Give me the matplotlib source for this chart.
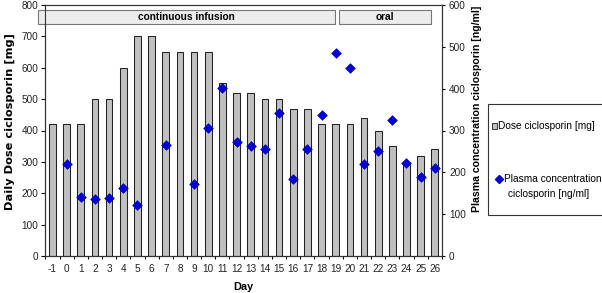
import matplotlib
matplotlib.use("Agg")
import matplotlib.pyplot as plt
from matplotlib.patches import Rectangle
from matplotlib.lines import Line2D
import numpy as np

plt.rcParams['font.family'] = ['Liberation Sans', 'DejaVu Sans']

days = [-1, 0, 1, 2, 3, 4, 5, 6, 7, 8, 9, 10, 11, 12, 13, 14, 15, 16, 17, 18, 19, 20, 21, 22, 23, 24, 25, 26]
dose = [420, 420, 420, 500, 500, 600, 700, 700, 650, 650, 650, 650, 550, 520, 520, 500, 500, 470, 470, 420, 420, 420, 440, 400, 350, 300, 320, 340]
conc_days = [0, 1, 2, 3, 4, 5, 7, 9, 10, 11, 12, 13, 14, 15, 16, 17, 18, 19, 20, 21, 22, 23, 24, 25, 26]
conc = [221, 140, 136, 138, 162, 122, 265, 171, 305, 401, 273, 262, 255, 342, 184, 255, 337, 486, 450, 221, 251, 325, 222, 190, 210]
phases = ["continuous infusion", "oral"]
phase_spans = [(-1.5, 19.45), (19.7, 26.2)]

W, H = 602, 293
def fx(px):
    return px / W
def fy(py):
    return 1 - py / H

fig = plt.figure(figsize=(6.02, 2.93), dpi=100)
ax = fig.add_axes([fx(45.4), fy(256), (441.9 - 45.4) / W, (256 - 5) / H])
ax2 = ax.twinx()

BLUE = '#0000d0'
x = np.arange(len(days))
ax.bar(x, dose, width=0.47, color='#c0c0c0', edgecolor='#222222', linewidth=0.75, zorder=2)
cx = [days.index(d) for d in conc_days]
ax2.scatter(cx, conc, marker='D', s=24, color=BLUE, edgecolor=BLUE, linewidth=0.5, zorder=3)

ax.set_xlim(-0.5, len(days) - 0.5)
ax.set_ylim(0, 800)
ax2.set_ylim(0, 600)
ax.set_yticks(range(0, 801, 100))
ax2.set_yticks(range(0, 601, 100))
ax.set_xticks(x)
ax.set_xticklabels([str(d) for d in days])
ax.set_xticks(np.arange(-0.5, len(days), 1), minor=True)

tick_font = ['Liberation Sans Narrow', 'Liberation Sans', 'DejaVu Sans']
ax.tick_params(axis='x', which='major', length=0, pad=5.5, labelsize=7.2, labelcolor='#222222')
ax.tick_params(axis='x', which='minor', length=2.5, width=0.8, direction='out')
ax.tick_params(axis='y', length=3, width=0.8, labelsize=7.2, pad=2.2, labelcolor='#222222')
ax2.tick_params(axis='y', length=2.2, width=0.8, labelsize=7.2, pad=2.9, labelcolor='#222222')
for lab in ax.get_xticklabels() + ax.get_yticklabels() + ax2.get_yticklabels():
    lab.set_family(tick_font)

for a in (ax, ax2):
    for s in a.spines.values():
        s.set_linewidth(0.8)
        s.set_color('#333333')

# phase header boxes
for label, (x0, x1) in zip(phases, phase_spans):
    ax.add_patch(Rectangle((x0 + 0.5, 739), x1 - x0, 44, facecolor='#ececec',
                           edgecolor='#777777', linewidth=0.8, zorder=4, clip_on=False))
    ax.text((x0 + x1) / 2 + 0.5, 761, label, ha='center', va='center',
            fontsize=7.3, fontweight='bold', zorder=5)

fig.text(fx(243), fy(286.5), "Day", ha='center', va='center', fontsize=7.8, fontweight='bold')
fig.text(fx(9.5), fy(121.5), "Daily Dose ciclosporin [mg]", rotation=90, ha='center', va='center',
         fontsize=8.2, fontweight='bold', family=['DejaVu Sans'])
fig.text(fx(476.7), fy(109), "Plasma concentration ciclosporin [ng/ml]", rotation=90,
         ha='center', va='center', fontsize=7.6, fontweight='bold')

# legend (drawn in figure pixel positions)
fig.add_artist(Rectangle((fx(488), fy(215)), (606 - 488) / W, (215 - 104) / H,
                         transform=fig.transFigure, facecolor='white', edgecolor='#333333',
                         linewidth=0.8, clip_on=False))
fig.add_artist(Rectangle((fx(492.5), fy(128.5)), 5 / W, 5 / H, transform=fig.transFigure,
                         facecolor='#c0c0c0', edgecolor='#333333', linewidth=0.7))
fig.add_artist(Line2D([fx(499)], [fy(179)], transform=fig.transFigure, marker='D',
                      markersize=4, color=BLUE, linestyle='none'))
leg_font = 7.3
fig.text(fx(498.5), fy(126), "Dose ciclosporin [mg]", ha='left', va='center', fontsize=leg_font)
fig.text(fx(503.5), fy(179), "Plasma concentration", ha='left', va='center', fontsize=leg_font)
fig.text(fx(508), fy(194), "ciclosporin [ng/ml]", ha='left', va='center', fontsize=leg_font)

fig.savefig("out.png", dpi=100)
